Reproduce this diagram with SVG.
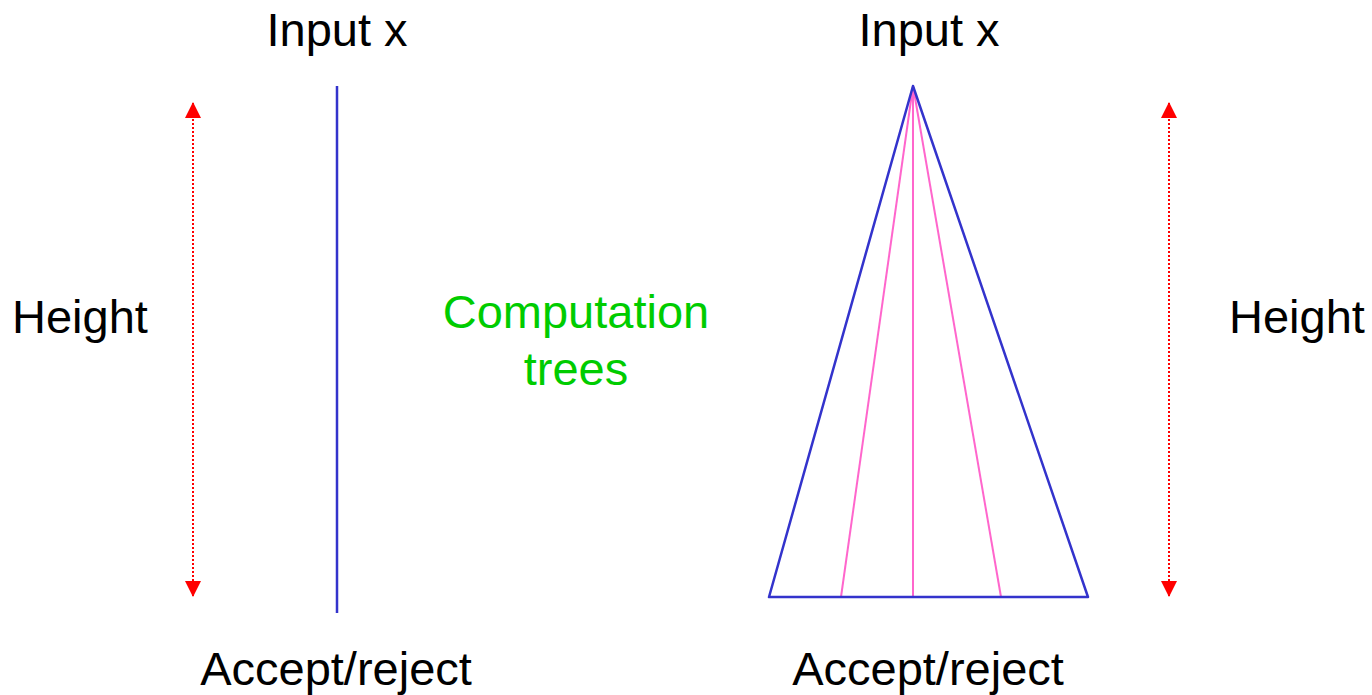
<svg xmlns="http://www.w3.org/2000/svg" width="1372" height="695" viewBox="0 0 1372 695">
  <style>
    .lbl { font-family: "Liberation Sans", Arial, sans-serif; font-size: 47px; fill: #000000; }
    .green { fill: #00cc00; }
    .path { stroke: #3333cc; stroke-width: 2.5; fill: none; }
    .branch { stroke: #ff66cc; stroke-width: 2; fill: none; }
    .height { stroke: #ff0000; stroke-width: 2; stroke-dasharray: 2 2; fill: none; }
  </style>
  <defs>
    <marker id="redHead" viewBox="0 0 16 16" refX="15" refY="8" markerWidth="16" markerHeight="16" markerUnits="userSpaceOnUse" orient="auto-start-reverse">
      <path d="M0,0 L16,8 L0,16 Z" fill="#ff0000"/>
    </marker>
  </defs>

  <rect width="1372" height="695" fill="#ffffff"/>

  <!-- deterministic computation: a single path -->
  <g id="deterministic">
    <text class="lbl" x="337" y="46" text-anchor="middle">Input x</text>
    <line class="path" x1="337" y1="86" x2="337" y2="613"/>
    <text class="lbl" x="336" y="685" text-anchor="middle">Accept/reject</text>
    <text class="lbl" x="12" y="333">Height</text>
  </g>

  <!-- caption between the two sides -->
  <g id="caption">
    <text class="lbl green" x="576" y="328" text-anchor="middle">Computation</text>
    <text class="lbl green" x="576" y="385" text-anchor="middle">trees</text>
  </g>

  <!-- nondeterministic computation: a branching tree -->
  <g id="nondeterministic">
    <text class="lbl" x="929" y="46" text-anchor="middle">Input x</text>
    <line class="branch" x1="913" y1="86" x2="841" y2="597"/>
    <line class="branch" x1="913" y1="86" x2="913" y2="597"/>
    <line class="branch" x1="913" y1="86" x2="1001" y2="597"/>
    <polygon class="path" points="913,86 769,597 1088,597" stroke-linejoin="round"/>
    <text class="lbl" x="928" y="685" text-anchor="middle">Accept/reject</text>
    <text class="lbl" x="1229" y="333">Height</text>
  </g>

  <!-- height measures -->
  <g id="connectors">
    <line class="height" x1="193" y1="103" x2="193" y2="596" marker-start="url(#redHead)" marker-end="url(#redHead)"/>
    <line class="height" x1="1169" y1="103" x2="1169" y2="596" marker-start="url(#redHead)" marker-end="url(#redHead)"/>
  </g>
</svg>
